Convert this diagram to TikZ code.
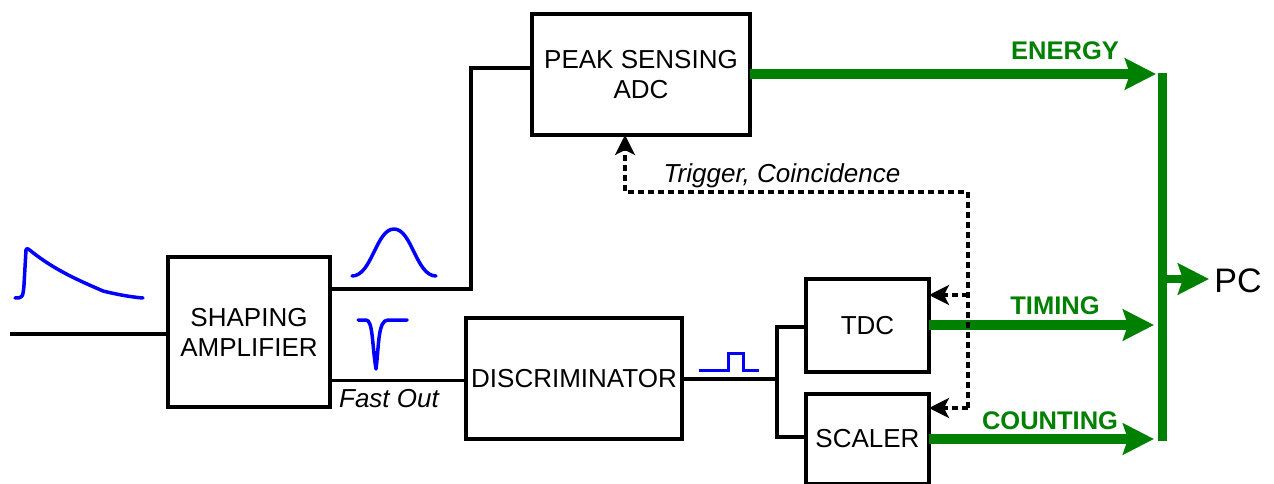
\documentclass[tikz,border=0pt]{standalone}
\usepackage{fontspec}
\setmainfont{Liberation Sans}
\usetikzlibrary{arrows.meta}
\definecolor{busgreen}{RGB}{0,128,0}
\begin{document}
\begin{tikzpicture}[x=1pt,y=-1pt,
	block/.style={draw,line width=4pt,outer sep=0pt,inner sep=0pt,align=center,font=\fontsize{26}{30}\selectfont},
	wire/.style={line width=3.5pt},
	bus/.style={busgreen,line width=10pt,-{Stealth[length=31pt,width=31pt,inset=5pt]}},
	trig/.style={line width=3.2pt,dash pattern=on 6pt off 4pt,-{Stealth[length=20pt,width=20pt,inset=5pt]}},
	pulse/.style={blue,line width=3.5pt,line cap=round,line join=round},
	buslabel/.style={busgreen,font=\fontsize{25.5}{30}\selectfont\bfseries},
	note/.style={font=\fontsize{26}{30}\selectfont\itshape}]
	\useasboundingbox (0,0) rectangle (1274,484);

	% blocks
	\node[block,minimum width=162pt,minimum height=150pt] (shaping) at (249,332) {SHAPING\\AMPLIFIER};
	\node[block,minimum width=218pt,minimum height=121pt] (adc) at (641,74.5) {PEAK SENSING\\ADC};
	\node[block,minimum width=216pt,minimum height=121pt] (disc) at (574,378.5) {DISCRIMINATOR};
	\node[block,minimum width=123pt,minimum height=93pt] (tdc) at (867.5,325.5) {TDC};
	\node[block,minimum width=123pt,minimum height=90pt] (scaler) at (867.5,439) {SCALER};

	\coordinate (in) at (10,334);
	\coordinate (slowout) at (330,289);
	\coordinate (slowup) at (471,289);
	\coordinate (slowtop) at (471,68);
	\coordinate (fastout) at (330,380);
	\coordinate (split) at (777,379);
	\coordinate (splittop) at (777,327);
	\coordinate (splitbot) at (777,437);

	% signal wires
	\draw[wire] (in) -- (in -| shaping.west);
	\draw[wire] (slowout) -- (slowup) -- (slowtop) -- (slowtop -| adc.west);
	\draw[wire,line width=3pt] (fastout) -- (fastout -| disc.west);
	\draw[wire] (split -| disc.east) -- (split);
	\draw[wire] (splittop -| tdc.west) -- (splittop) -- (splitbot) -- (splitbot -| scaler.west);

	% outputs to the PC
	\coordinate (bustop) at (1162,73);
	\coordinate (busbot) at (1162,441);
	\coordinate (busout) at (1162,279);
	\coordinate (energyend) at (1156,74);
	\coordinate (timingend) at (1154,325);
	\coordinate (countingend) at (1154,439);
	\draw[bus] (adc.east |- energyend) -- (energyend);
	\draw[bus] (tdc.east |- timingend) -- (timingend);
	\draw[bus] (scaler.east |- countingend) -- (countingend);
	\draw[busgreen,line width=9pt] (bustop) -- (busbot);
	\node[font=\fontsize{34}{36}\selectfont,inner sep=0pt] (pc) at (1238,281) {PC};
	\coordinate (pcin) at (1209,279);
	\draw[busgreen,line width=8pt,-{Stealth[length=31pt,width=31pt,inset=5pt]}] (busout) -- (pcin);

	% trigger lines
	\coordinate (trigcorner) at (968,192);
	\coordinate (trigleft) at (625,192);
	\coordinate (trigtdc) at (968,295);
	\coordinate (trigscaler) at (968,408);
	\draw[trig] (trigscaler) -- (trigcorner) -- (trigleft) -- (trigleft |- adc.south);
	\draw[trig] (trigtdc) -- (trigtdc -| tdc.east);
	\draw[trig] (trigscaler) -- (trigscaler -| scaler.east);

	% labels
	\node[buslabel] (energy) at (1065,51) {ENERGY};
	\node[buslabel] (timing) at (1055,306) {TIMING};
	\node[buslabel] (counting) at (1050,421) {COUNTING};
	\node[note] (trigger) at (782,176) {Trigger, Coincidence};
	\node[note] (fast) at (389,399) {Fast Out};

	% pulses
	\draw[pulse] (15,298) .. controls (22,298) and (23,298) .. (24,285) -- (26,250) .. controls (27,247) and (28,249) .. (36,255)
		.. controls (60,273) and (85,283) .. (103,291) .. controls (115,294) and (130,297) .. (143,298);
	\draw[pulse] (352,276) .. controls (372,276) and (376,229) .. (394,229) .. controls (412,229) and (416,276) .. (436,276);
	\draw[pulse] (358,320) -- (366,320) .. controls (373,320) and (372,345) .. (376,369) .. controls (379,345) and (378,320) .. (388,320) -- (407,320);
	\draw[blue,line width=3pt] (699,370) -- (728,370) -- (728,353) -- (743,353) -- (743,370) -- (759,370);
\end{tikzpicture}
\end{document}
